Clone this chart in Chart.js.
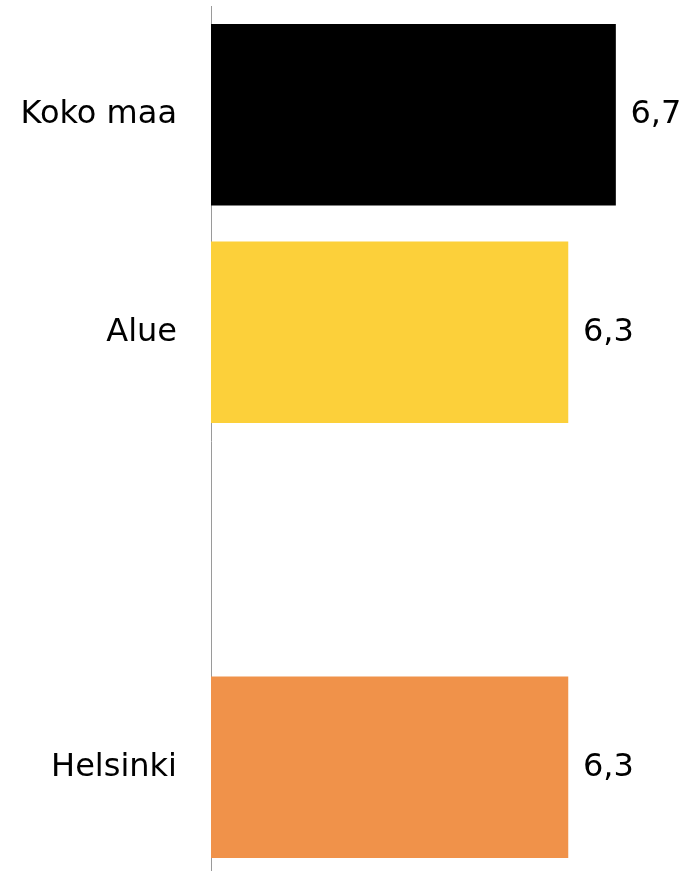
<!DOCTYPE html>
<html>
<head>
<meta charset="utf-8">
<script src="https://cdn.jsdelivr.net/npm/chart.js@4"></script>
<style>
  html, body { margin: 0; padding: 0; background: #fff; overflow: hidden; }
  #wrap { width: 684px; height: 876px; }
</style>
</head>
<body>
<div id="wrap"><canvas id="chart" width="684" height="876"></canvas></div>
<script>
// Bar chart: one value per area, an empty slot between Alue and Helsinki.
const categories = ['Koko maa', 'Alue', '', 'Helsinki'];
const values = [6.7, 6.3, null, 6.3];
const barColors = ['#000000', '#FCD03A', '#ffffff', '#F0924A'];
const valueLabels = ['6,7', '6,3', '', '6,3'];

const FONT = '"DejaVu Sans", Verdana, sans-serif';

// Draw the value text just right of each bar.
const valueLabelPlugin = {
  id: 'valueLabels',
  afterDatasetsDraw(chart) {
    const ctx = chart.ctx;
    const meta = chart.getDatasetMeta(0);
    ctx.save();
    ctx.font = '32px ' + FONT;
    ctx.fillStyle = '#000';
    ctx.textAlign = 'left';
    ctx.textBaseline = 'middle';
    meta.data.forEach((bar, i) => {
      if (values[i] === null) return;
      ctx.fillText(valueLabels[i], bar.x + 15, bar.y);
    });
    ctx.restore();
  },
};

new Chart(document.getElementById('chart'), {
  type: 'bar',
  data: {
    labels: categories,
    datasets: [{
      data: values,
      backgroundColor: barColors,
      borderWidth: 0,
      barThickness: 181,
    }],
  },
  options: {
    indexAxis: 'y',
    responsive: false,
    animation: false,
    layout: { padding: { top: 6, right: 9, bottom: 0, left: 0 } },
    plugins: {
      legend: { display: false },
      tooltip: { enabled: false },
    },
    scales: {
      x: {
        display: false,
        min: 3.3,
        max: 7.2,
      },
      y: {
        afterFit: (scale) => {
          scale.width = 211;
          scale.paddingTop = 0;
          scale.paddingBottom = 0;
        },
        grid: { display: false, drawTicks: false },
        border: { display: true, color: '#9a9a9a', width: 1 },
        ticks: {
          padding: 34,
          color: '#000',
          font: { family: FONT, size: 32 },
        },
      },
    },
  },
  plugins: [valueLabelPlugin],
});
</script>
</body>
</html>
